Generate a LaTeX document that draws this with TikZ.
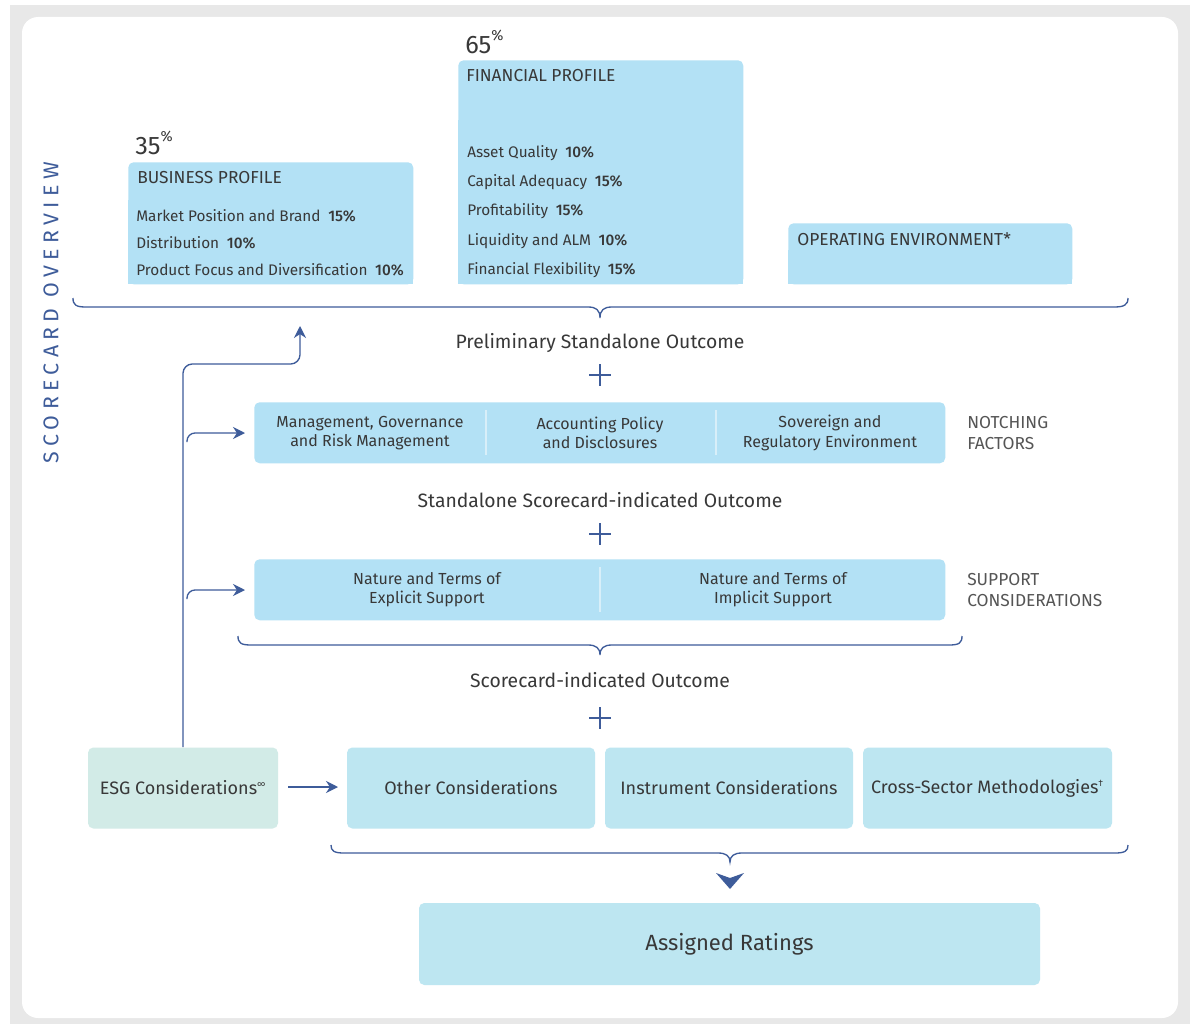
\documentclass[tikz,border=0pt]{standalone}
\usepackage{fontspec}
\setmainfont{Fira Sans}[BoldFont=* Medium]
\usetikzlibrary{arrows.meta}
\definecolor{framegray}{HTML}{E8E8E8}
\definecolor{boxblue}{HTML}{B3E1F5}
\definecolor{boxcyan}{HTML}{BDE6F1}
\definecolor{esgcol}{HTML}{D2EBE7}
\definecolor{ink}{HTML}{383838}
\definecolor{softink}{HTML}{555555}
\definecolor{navy}{HTML}{3E5C9A}
\definecolor{sepline}{HTML}{D8EFF9}
\begin{document}
\begin{tikzpicture}[x=0.75pt,y=-0.75pt,
  every node/.style={text=ink, inner sep=0pt},
  panel/.style={fill=boxblue, rounded corners=4pt, draw=none},
  cbox/.style={fill=boxcyan, rounded corners=4pt, draw=none, align=center, font=\fontsize{13.5}{16}\selectfont},
  item/.style={anchor=west, font=\fontsize{11.5}{14}\selectfont},
  head/.style={anchor=west, font=\fontsize{13}{16}\selectfont},
  pct/.style={anchor=west, font=\fontsize{19}{22}\selectfont},
  outcome/.style={font=\fontsize{14.5}{17}\selectfont},
  inbox/.style={align=center, font=\fontsize{12}{14.5}\selectfont},
  side/.style={anchor=west, align=left, text=softink, font=\fontsize{13}{15.5}\selectfont},
  conn/.style={navy, line width=1pt, -{Stealth[length=9pt,width=9pt]}},
  bracket/.style={navy, line width=1pt},
  plus/.style={navy, line width=1.6pt}
]
% page and frame
\fill[white] (0,0) rectangle (1197,1024);
\fill[framegray] (10,5) rectangle (1190,1024);
\fill[white, rounded corners=12pt] (22,17) rectangle (1178,1018);

% side title
\node[rotate=90, text=navy, font=\fontsize{16}{18}\selectfont\addfontfeatures{LetterSpace=25}] (title) at (51,313) {SCORECARD OVERVIEW};

% business profile
\fill[boxblue] (128,200) rectangle (413,284);
\node[panel, minimum width=285*0.75pt, minimum height=122*0.75pt, anchor=north west] (bp) at (128,162) {};
\node[pct] (bppct) at (135,143) {35\raisebox{0.5em}{\fontsize{11}{11}\selectfont\%}};
\node[head] (bph) at (137,178) {BUSINESS PROFILE};
\node[item] (bp1) at (136,216) {Market Position and Brand\enspace\textbf{15\%}};
\node[item] (bp2) at (136,243) {Distribution\enspace\textbf{10\%}};
\node[item] (bp3) at (136,270) {Product Focus and Diversification\enspace\textbf{10\%}};

% financial profile
\fill[boxblue] (458,120) rectangle (743,284);
\node[panel, minimum width=285*0.75pt, minimum height=224*0.75pt, anchor=north west] (fp) at (458,60) {};
\node[pct] (fppct) at (465,42) {65\raisebox{0.5em}{\fontsize{11}{11}\selectfont\%}};
\node[head] (fph) at (466,76) {FINANCIAL PROFILE};
\node[item] (fp1) at (467,153) {Asset Quality\enspace\textbf{10\%}};
\node[item] (fp2) at (467,182) {Capital Adequacy\enspace\textbf{15\%}};
\node[item] (fp3) at (467,211) {Profitability\enspace\textbf{15\%}};
\node[item] (fp4) at (467,241) {Liquidity and ALM\enspace\textbf{10\%}};
\node[item] (fp5) at (467,270) {Financial Flexibility\enspace\textbf{15\%}};

% operating environment
\fill[boxblue] (788,250) rectangle (1072,284);
\node[panel, minimum width=284*0.75pt, minimum height=61*0.75pt, anchor=north west] (oe) at (788,223) {};
\node[head] (oeh) at (797,239) {OPERATING ENVIRONMENT*};

% top bracket
\coordinate (b1tip) at (600,318);
\draw[bracket] (73,298) .. controls (73,305) and (76,307) .. (86,307) -- (588,307)
  .. controls (596,307) and (600,310) .. (b1tip)
  .. controls (600,310) and (604,307) .. (612,307) -- (1114,307)
  .. controls (1124,307) and (1128,305) .. (1128,298);

\node[outcome] (pso) at (600,343) {Preliminary Standalone Outcome};
\draw[plus] (589,375) -- (611,375) (600,364) -- (600,386);

% notching factors
\node[panel, minimum width=691*0.75pt, minimum height=61*0.75pt, anchor=north west] (notch) at (254,402) {};
\draw[sepline, line width=1pt] (486,410) -- (486,455) (716,410) -- (716,455);
\node[inbox] (n1) at (370,433) {Management, Governance\\and Risk Management};
\node[inbox] (n2) at (600,433) {Accounting Policy\\and Disclosures};
\node[inbox] (n3) at (830,433) {Sovereign and\\Regulatory Environment};
\node[side] (nf) at (967,433) {NOTCHING\\FACTORS};

\node[outcome] (sso) at (600,500) {Standalone Scorecard-indicated Outcome};
\draw[plus] (589,534) -- (611,534) (600,523) -- (600,545);

% support considerations
\node[panel, minimum width=691*0.75pt, minimum height=61*0.75pt, anchor=north west] (supp) at (254,559) {};
\draw[sepline, line width=1pt] (600,567) -- (600,612);
\node[inbox] (s1) at (427,590) {Nature and Terms of\\Explicit Support};
\node[inbox] (s2) at (773,590) {Nature and Terms of\\Implicit Support};
\node[side] (sc) at (967,590) {SUPPORT\\CONSIDERATIONS};

% middle bracket
\coordinate (b2tip) at (600,655);
\draw[bracket] (238,636) .. controls (238,643) and (241,645) .. (251,645) -- (588,645)
  .. controls (596,645) and (600,648) .. (b2tip)
  .. controls (600,648) and (604,645) .. (612,645) -- (949,645)
  .. controls (959,645) and (962,643) .. (962,636);

\node[outcome] (sio) at (600,680) {Scorecard-indicated Outcome};
\draw[plus] (589,718) -- (611,718) (600,707) -- (600,729);

% bottom row
\node[cbox, fill=esgcol, minimum width=190*0.75pt, minimum height=81*0.75pt] (esg) at (183,788) {ESG Considerations\textsuperscript{\fontsize{7}{7}\selectfont∞}};
\node[cbox, minimum width=248*0.75pt, minimum height=81*0.75pt] (other) at (471,788) {Other Considerations};
\node[cbox, minimum width=248*0.75pt, minimum height=81*0.75pt] (instr) at (729,788) {Instrument Considerations};
\node[cbox, minimum width=249*0.75pt, minimum height=81*0.75pt] (cross) at (987.5,788) {Cross-Sector Methodologies\textsuperscript{\fontsize{7}{7}\selectfont†}};

% bottom bracket and pointer
\coordinate (b3tip) at (730,862);
\draw[bracket] (331,845) .. controls (331,851) and (334,853) .. (344,853) -- (718,853)
  .. controls (726,853) and (730,856) .. (b3tip)
  .. controls (730,856) and (734,853) .. (742,853) -- (1115,853)
  .. controls (1125,853) and (1128,851) .. (1128,845);
\fill[navy] (716,873) -- (730,878) -- (744,873) -- (730,889) -- cycle;

\node[cbox, minimum width=621*0.75pt, minimum height=82*0.75pt, font=\fontsize{16.5}{19}\selectfont] (rating) at (729.5,944) {Assigned Ratings};

% ESG influence connectors
\coordinate (up) at (300,326);
\draw[navy, line width=1pt, rounded corners=7pt, -{Stealth[length=9pt,width=9pt]}]
  (esg.north -| 183,0) -- (183,364) -- (300,364) -- (up);
\coordinate (nb) at (187,442);
\coordinate (nt) at (245,433);
\draw[conn, rounded corners=6pt] (nb) -- (187,433) -- (nt);
\coordinate (sb) at (187,599);
\coordinate (st) at (245,590);
\draw[conn, rounded corners=6pt] (sb) -- (187,590) -- (st);
\coordinate (es) at (288,787);
\coordinate (et) at (338,787);
\draw[conn] (es) -- (et);
\end{tikzpicture}
\end{document}
